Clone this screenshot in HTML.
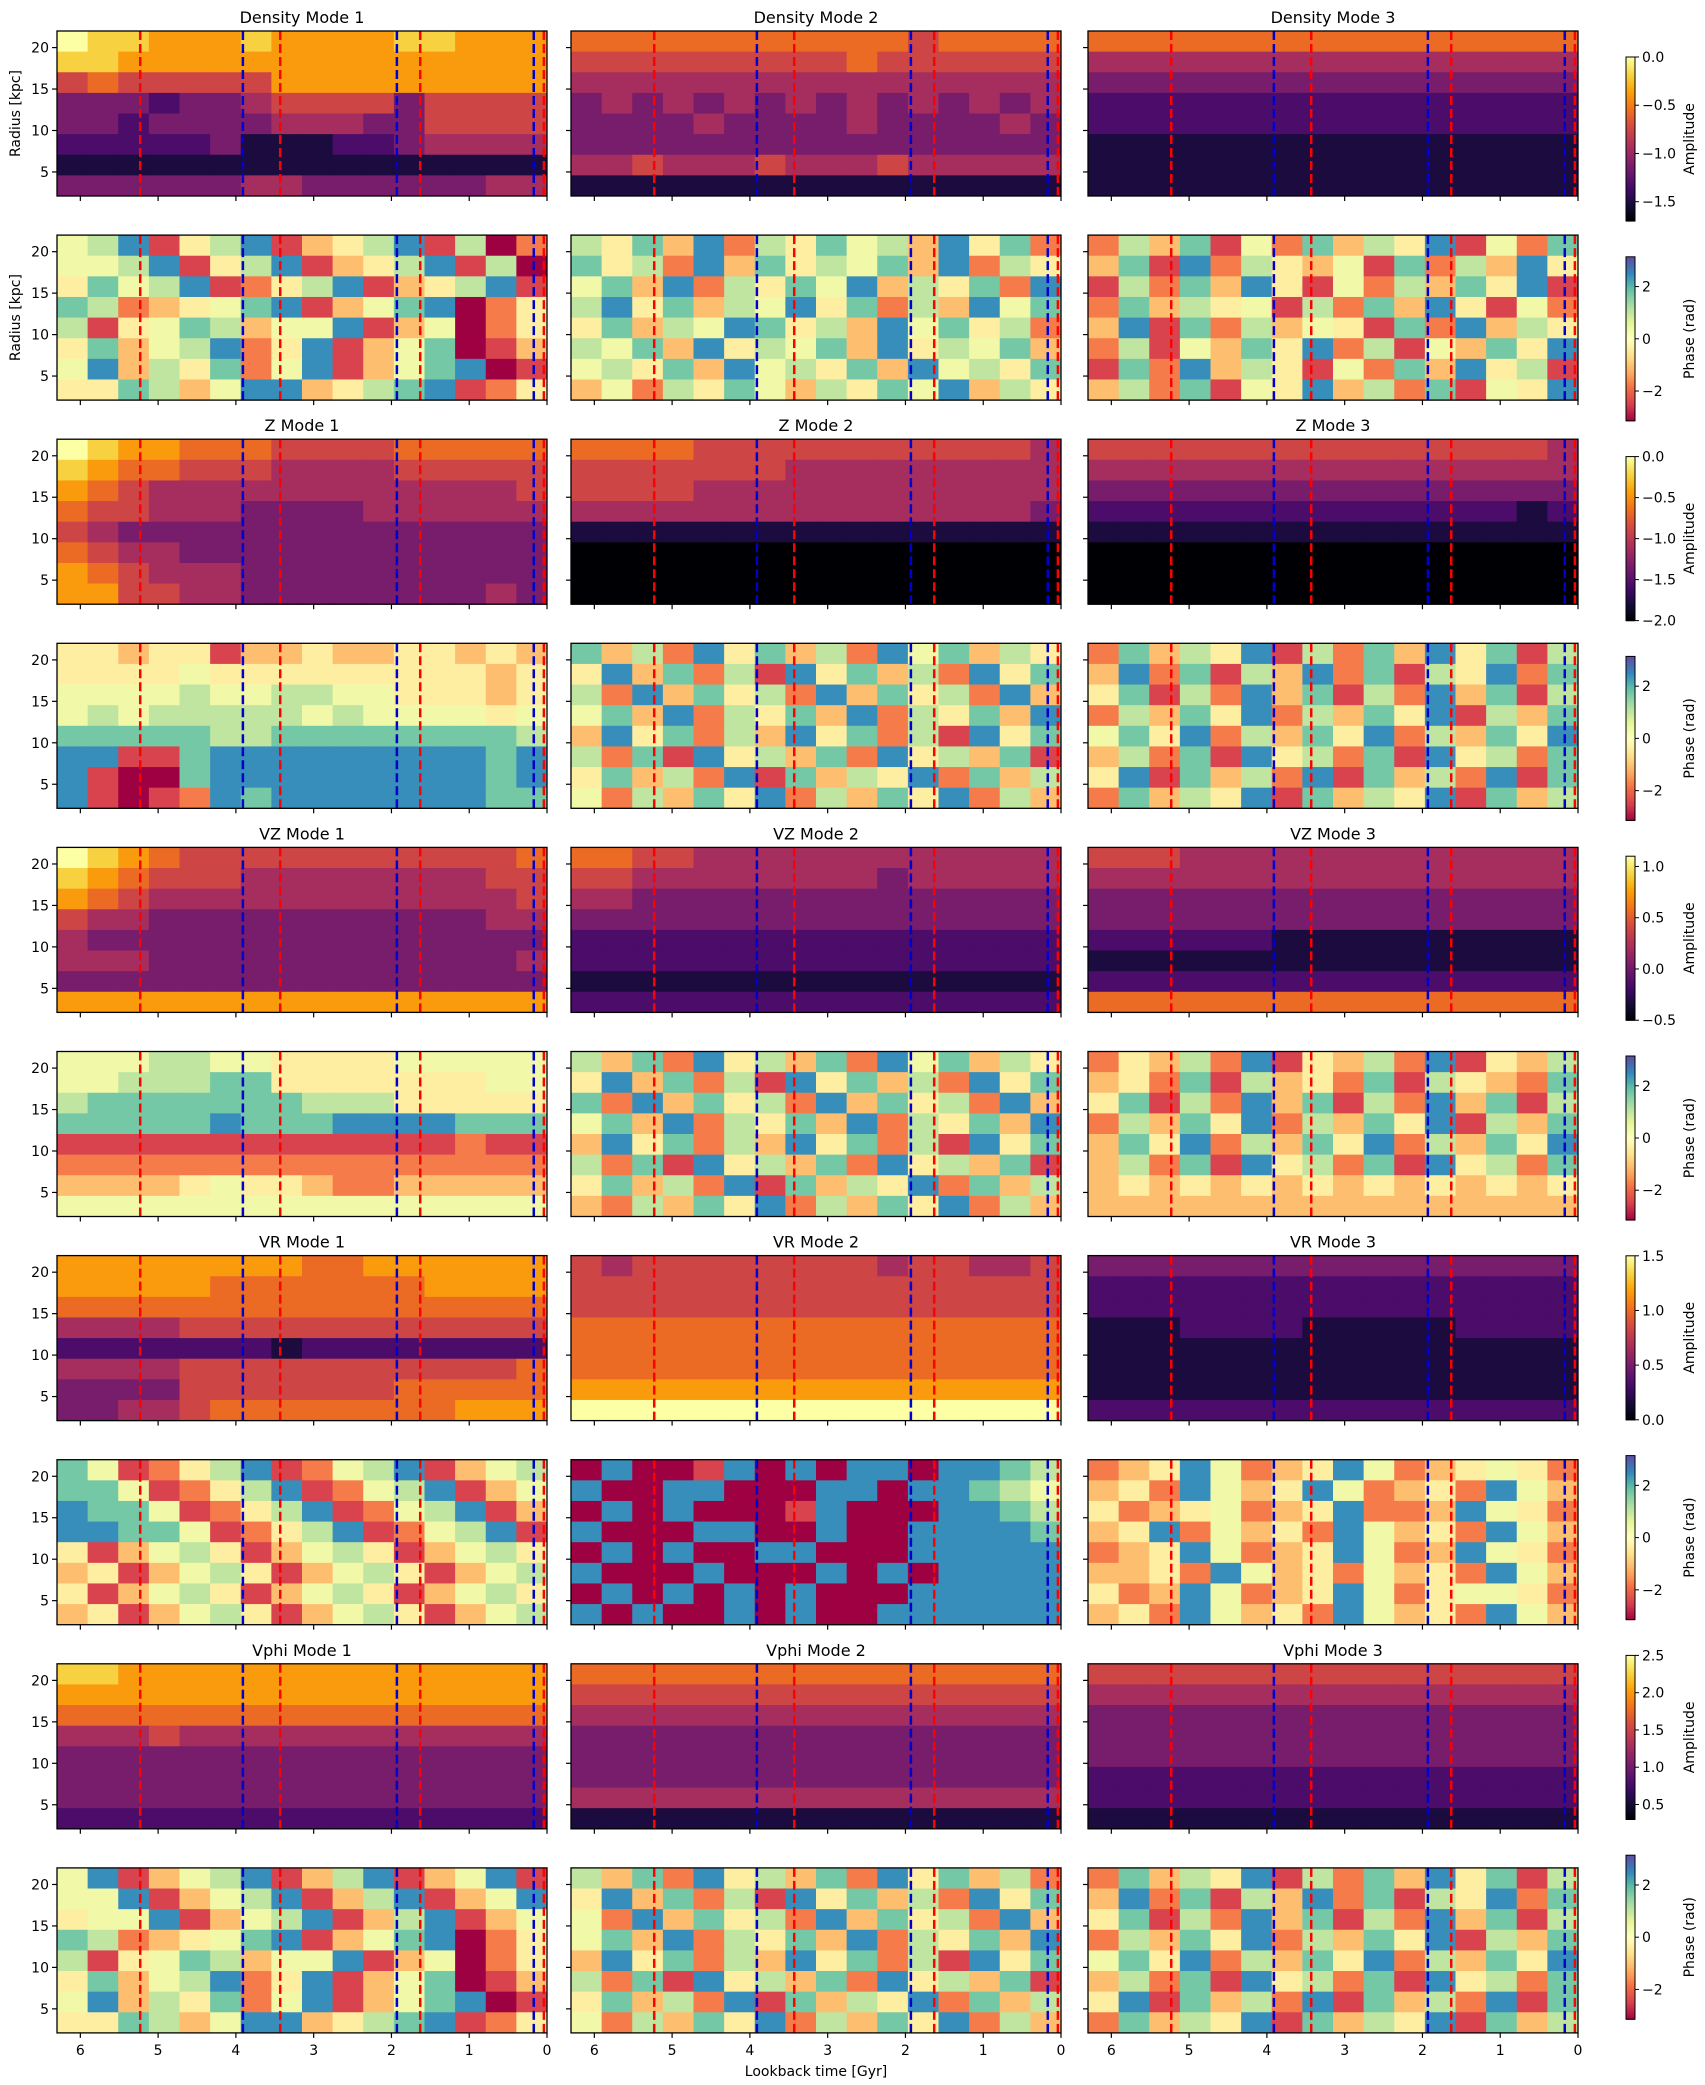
<!DOCTYPE html>
<html><head><meta charset="utf-8"><style>
html,body{margin:0;padding:0;background:#fff;}
svg{display:block;font-family:"DejaVu Sans","Liberation Sans",sans-serif;}
</style></head><body>
<svg id="fig" width="1705" height="2085" viewBox="0 0 1705 2085" xmlns="http://www.w3.org/2000/svg"></svg>
<script>
// ---- data: digit grids (rows top r=22 -> bottom r=2, cols t=6.3 -> 0); digit/9 = colormap fraction
const densAmp1=["9887778777788777","8877777777777777","5655555777777777","3332334555535555","3323333444335555","2222231112234444","1111111111111111","3333334433333344"];
const densAmp2=["6666666666656666","5555555556555555","4444444444444444","3434343434343434","3333433334333343","3333333333333333","4454445444544444","1111111111111111"];
const densAmp3=["6666666666666666","4444444444444444","3333333333333333","2222222222222222","2222222222222222","1111111111111111","1111111111111111","1111111111111111"];
const densPh1=["5681468134681602","5568146813468160","4756812468134681","7623457813578024","6145763558135024","4735682481357013","5836472581357801","4476358834678124"];
const densPh2=["6473826475638472","7462837465738264","5738264758364728","6847365847263857","4736587463857462","6573846573846573","5647385647385647","3526475364758364"];
const densPh3=["2637152736481527","3718264351726384","1627384152637481","2736451627384152","3817263541728364","2615374826153748","1728364152738461","3627154836271548"];
const zAmp1=["9877666555566666","8766555444455555","7654444444444445","6554443333444444","5433333333333333","6544333333333333","7654443333333333","7755443333333343"];
const zAmp2=["6666555555555554","5555555444444444","5555444444444444","4444444444444443","1111111111111111","0000000000000000","0000000000000000","0000000000000000"];
const zAmp3=["5555555555555554","4444444444444444","3333333333333333","2222222222222212","1111111111111111","0000000000000000","0000000000000000","0000000000000000"];
const zPh1=["4434413343344343","4444544444444434","5555655665544434","5656666656555545","7777766777777776","8811788888888878","8100788888888878","8101287888888877"];
const zPh2=["7362847362857364","4837261847362847","6283746283746283","5738264738264738","3847263847261847","6271846372846371","4736281736482736","5263748263748263"];
const zPh3=["2736481627384716","3827163827164827","4716283716283716","2637482637481637","5748263748263748","3627184627184627","4817362817362817","2736481736481736"];
const vzAmp1=["9876555555555556","8765554444444455","7654444444444445","5443333333333344","4333333333333333","4443333333333334","3333333333333333","7777777777777777"];
const vzAmp2=["6655444444444444","5544444444344444","4433333333333333","3333333333333333","2222222222222222","2222222222222222","1111111111111111","2222222222222222"];
const vzAmp3=["5554444444444444","4444444444444444","3333333333333333","3333333333333333","2222221111111111","1111111111111111","2222222222222222","6666666666666666"];
const vzPh1=["5556655444455555","5566677444444455","6777777766644444","7777787778888777","1111111111111211","2222222222222222","3333454432233333","5555555555555555"];
const vzPh2=["6372846372857364","4837261847362847","7283746283746283","5738264738264738","3847263847261847","6271846372846371","4736281736482736","3263748263748263"];
const vzPh3=["2436281436281436","3427163427164327","4716283716283716","2637482637481637","3748263748263748","3627184627184627","3434343434343434","3333333333333333"];
const vrAmp1=["7777777766777777","7777766666667777","6666666666666666","4444555555555555","2222222122222222","4444555555555556","3333555555566666","3344566666666777"];
const vrAmp2=["5455555555455445","5555555555555555","5555555555555555","6666666666666666","6666666666666666","6666666666666666","7777777777777777","9999999999999999"];
const vrAmp3=["3333333333333333","2222222222222222","2222222222222222","1112222111112222","1111111111111111","1111111111111111","1111111111111111","2222222222222222"];
const vrPh1=["7512468125681356","7751246812568135","8775124681256813","8877512468125681","4135641356413564","3413564135641356","4135641356413564","3413564135641356"];
const vrPh2=["0800180808808876","8008800088088765","0808000180008876","8000880080088887","0808008800088888","8000800080808888","0808080800088888","8080080800888888"];
const vrPh3=["2348523485234542","3428534852342853","4234523482238542","3482534285342853","2348523485238542","3342853425342853","4238523485245542","3428534285342853"];
const vphiAmp1=["8877777777777777","7777777777777777","6666666666666666","4445444444444444","3333333333333333","3333333333333333","3333333333333333","2222222222222222"];
const vphiAmp2=["6666666666666666","5555555555555555","4444444444444444","3333333333333333","3333333333333333","3333333333333333","4444444444444444","1111111111111111"];
const vphiAmp3=["5555555555555555","4444444444444444","3333333333333333","3333333333333333","3333333333333333","2222222222222222","2222222222222222","1111111111111111"];
const vphiPh1=["5813568136813581","5581356813681358","4558135681368135","7623457813578024","6145763558135024","4735682481357013","5836472581357801","4476358834678124"];
const vphiPh2=["6372846372847362","4837261847362847","5283746283746283","5738264738264738","3847263847261847","6271846372846371","4736281736482736","5263748263748263"];
const vphiPh3=["2736481627384716","3827163827164827","4716283716283716","2637482637481637","5748263748263748","3627184627184627","4817362817362817","2736481736481736"];

const redLines=[5.23,3.43,1.63,0.04];
const blueLines=[3.91,1.93,0.17];
const xTicks=[6,5,4,3,2,1,0];
const yTicks=[5,10,15,20];
const titles=[["Density Mode 1","Density Mode 2","Density Mode 3"],null,["Z Mode 1","Z Mode 2","Z Mode 3"],null,["VZ Mode 1","VZ Mode 2","VZ Mode 3"],null,["VR Mode 1","VR Mode 2","VR Mode 3"],null,["Vphi Mode 1","Vphi Mode 2","Vphi Mode 3"],null];
const grids=[[densAmp1,densAmp2,densAmp3],[densPh1,densPh2,densPh3],[zAmp1,zAmp2,zAmp3],[zPh1,zPh2,zPh3],[vzAmp1,vzAmp2,vzAmp3],[vzPh1,vzPh2,vzPh3],[vrAmp1,vrAmp2,vrAmp3],[vrPh1,vrPh2,vrPh3],[vphiAmp1,vphiAmp2,vphiAmp3],[vphiPh1,vphiPh2,vphiPh3]];
const cbMin=[-1.7,-3.14,-2.0,-3.14,-0.5,-3.14,0,-3.14,0.3,-3.14];
const cbMax=[0,3.14,0,3.14,1.1,3.14,1.5,3.14,2.5,3.14];
const cbTicks=[[0,-0.5,-1,-1.5],[2,0,-2],[0,-0.5,-1,-1.5,-2],[2,0,-2],[1,0.5,0,-0.5],[2,0,-2],[1.5,1,0.5,0],[2,0,-2],[2.5,2,1.5,1,0.5],[2,0,-2]];
const cbTickLabels=[["0.0","−0.5","−1.0","−1.5"],["2","0","−2"],["0.0","−0.5","−1.0","−1.5","−2.0"],["2","0","−2"],["1.0","0.5","0.0","−0.5"],["2","0","−2"],["1.5","1.0","0.5","0.0"],["2","0","−2"],["2.5","2.0","1.5","1.0","0.5"],["2","0","−2"]];

// ---- colormaps
const inferno=["#000004","#160b39","#420a68","#6a176e","#932667","#bc3754","#dd513a","#f37819","#fca50a","#f6d746","#fcffa4"];
const spectral=["#9e0142","#d53e4f","#f46d43","#fdae61","#fee08b","#ffffbf","#e6f598","#abdda4","#66c2a5","#3288bd","#5e4fa2"];
function cmap(stops,f){f=Math.max(0,Math.min(1,f));const p=f*(stops.length-1);const i=Math.min(stops.length-2,Math.floor(p));const u=p-i;
 const a=stops[i],b=stops[i+1];const h=(s,k)=>parseInt(s.substr(1+2*k,2),16);
 let o="rgb(";for(let k=0;k<3;k++){o+=Math.round(h(a,k)+(h(b,k)-h(a,k))*u)+(k<2?",":")");}return o;}

const NS="http://www.w3.org/2000/svg";
const svg=document.getElementById("fig");
function el(tag,attrs,parent){const e=document.createElementNS(NS,tag);for(const k in attrs)e.setAttribute(k,attrs[k]);(parent||svg).appendChild(e);return e;}

const colX=[57,571,1088], PW=490, PH=165, T0=31, PITCH=204.1;
const tMax=6.3, rMin=2.1, rMax=22;
const varNames=["density","density","z","z","vz","vz","vr","vr","vphi","vphi"];

for(let row=0;row<10;row++){
 const top=T0+PITCH*row; const isPhase=row%2===1; const stops=isPhase?spectral:inferno;
 for(let col=0;col<3;col++){
  const left=colX[col];
  const xs=t=>left+(tMax-t)/tMax*PW;
  const ys=r=>top+(rMax-r)/(rMax-rMin)*PH;
  const g=el("g",{});
  
  
  const grid=grids[row][col]; const nr=grid.length, nc=grid[0].length;
  for(let i=0;i<nr;i++){for(let j=0;j<nc;j++){
   const v=parseInt(grid[i][j])/9;
   const t0=tMax-j*tMax/nc, t1=tMax-(j+1)*tMax/nc;
   const r0=rMax-i*(rMax-rMin)/nr, r1=rMax-(i+1)*(rMax-rMin)/nr;
   const c=el("rect",{x:xs(t0).toFixed(2),y:ys(r0).toFixed(2),width:(xs(t1)-xs(t0)+0.5).toFixed(2),height:(ys(r1)-ys(r0)+0.5).toFixed(2),fill:cmap(stops,v)},g);
   
   
  }}
  redLines.forEach(t=>{const l=el("line",{x1:xs(t),x2:xs(t),y1:top,y2:top+PH,stroke:"#ff0000","stroke-width":2.5,"stroke-dasharray":"9,4"},g);
   
   });
  blueLines.forEach(t=>{const l=el("line",{x1:xs(t),x2:xs(t),y1:top,y2:top+PH,stroke:"#0000cc","stroke-width":2.5,"stroke-dasharray":"9,4"},g);
   
   });
  const fr=el("rect",{x:left,y:top,width:PW,height:PH,fill:"none",stroke:"#000","stroke-width":1.3},g);
  
  
  xTicks.forEach((t,k)=>{el("line",{x1:xs(t),x2:xs(t),y1:top+PH,y2:top+PH+5,stroke:"#000","stroke-width":1.2},g);
   if(row===9){const tx=el("text",{x:xs(t),y:top+PH+22,"text-anchor":"middle","font-size":14,fill:"#000"},g);tx.textContent=String(t);
    
    }});
  yTicks.forEach(r=>{el("line",{x1:left-5,x2:left,y1:ys(r),y2:ys(r),stroke:"#000","stroke-width":1.2},g);
   if(col===0){const tx=el("text",{x:left-8,y:ys(r)+5,"text-anchor":"end","font-size":14,fill:"#000"},g);tx.textContent=String(r);
    
    }});
  if(titles[row]){const tt=el("text",{x:left+PW/2,y:top-8,"text-anchor":"middle","font-size":16,fill:"#000"},g);tt.textContent=titles[row][col];
   
   }
 }
 if(row<2){const yl=el("text",{x:0,y:0,"text-anchor":"middle","font-size":14,fill:"#000",transform:`translate(20,${top+PH/2}) rotate(-90)`});yl.textContent="Radius [kpc]";
  
  }
 const cbTop=57+199.8*row, cbH=164, cbX=1626, cbW=9;
 const cg=el("g",{});
 
 
 for(let k=0;k<82;k++){el("rect",{x:cbX,y:cbTop+cbH-(k+1)*cbH/82,width:cbW,height:cbH/82+0.6,fill:cmap(stops,(k+0.5)/82)},cg);}
 el("rect",{x:cbX,y:cbTop,width:cbW,height:cbH,fill:"none",stroke:"#000","stroke-width":1},cg);
 cbTicks[row].forEach((v,k)=>{const y=cbTop+cbH-(v-cbMin[row])/(cbMax[row]-cbMin[row])*cbH;
  el("line",{x1:cbX+cbW,x2:cbX+cbW+4,y1:y,y2:y,stroke:"#000","stroke-width":1},cg);
  const tx=el("text",{x:cbX+cbW+7,y:y+5,"font-size":14,fill:"#000"},cg);tx.textContent=cbTickLabels[row][k];
  
  });
 const cl=el("text",{x:0,y:0,"text-anchor":"middle","font-size":14,fill:"#000",transform:`translate(1694,${cbTop+cbH/2}) rotate(-90)`},cg);
 cl.textContent=isPhase?"Phase (rad)":"Amplitude";
 
 
}
const xl=el("text",{x:colX[1]+PW/2,y:2076,"text-anchor":"middle","font-size":14,fill:"#000"});
xl.textContent="Lookback time [Gyr]";


</script>
</body></html>
